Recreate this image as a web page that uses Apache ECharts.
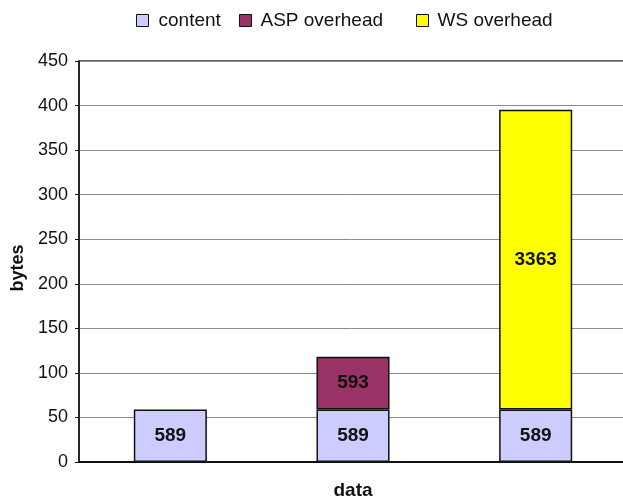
<!DOCTYPE html>
<html>
<head>
<meta charset="utf-8">
<title>Message size: content vs. overhead</title>
<script src="https://cdn.jsdelivr.net/npm/echarts@6/dist/echarts.min.js"></script>
<style>
  html, body { margin: 0; padding: 0; background: #ffffff; }
  #chart { width: 623px; height: 496px; }
</style>
</head>
<body>
<div id="chart"></div>
<script>
// Transport variants along the x axis
const categories = ['raw', 'ASP', 'WS'];

// Bytes per message, stacked
const contentBytes = [589, 589, 589];
const aspOverhead = [null, 593, null];
const wsOverhead = [null, null, 3363];

// Y-axis tick labels (one per 500-byte step)
const yTickLabels = ['0', '50', '100', '150', '200', '250', '300', '350', '400', '450'];

const FONT = '"Liberation Sans", Arial, Helvetica, sans-serif';

const chart = echarts.init(document.getElementById('chart'), null, { renderer: 'canvas' });

function legendItem(name, left, gap) {
  return {
    data: [name],
    left: left,
    top: 11,
    padding: 0,
    itemWidth: 12,
    itemHeight: 12,
    icon: 'rect',
    selectedMode: false,
    textStyle: { fontFamily: FONT, fontSize: 19, color: '#111', padding: [0, 0, 0, gap] },
    itemStyle: { borderColor: '#111', borderWidth: 1 }
  };
}

function stackSeries(name, data, color) {
  return {
    name: name,
    type: 'bar',
    stack: 'bytes',
    data: data,
    barWidth: '40%',
    itemStyle: { color: color, borderColor: '#111', borderWidth: 1.5 },
    label: {
      show: true,
      position: 'inside',
      fontFamily: FONT,
      fontSize: 19,
      fontWeight: 'bold',
      color: '#111'
    }
  };
}

chart.setOption({
  animation: false,
  backgroundColor: '#ffffff',
  legend: [
    legendItem('content', 136, 5),
    legendItem('ASP overhead', 239, 4),
    legendItem('WS overhead', 416, 4)
  ],
  grid: {
    left: 79,
    top: 61,
    width: 548,
    bottom: 34,
    outerBoundsMode: 'none',
    containLabel: false,
    show: true,
    borderColor: '#333',
    borderWidth: 1.5,
    backgroundColor: 'transparent'
  },
  xAxis: {
    type: 'category',
    data: categories,
    name: 'data',
    nameLocation: 'middle',
    nameGap: 19,
    nameTextStyle: { fontFamily: FONT, fontSize: 19, fontWeight: 'bold', color: '#111', verticalAlign: 'top' },
    axisLine: { show: true, lineStyle: { color: '#111', width: 2 } },
    axisTick: { show: false },
    axisLabel: { show: false },
    splitLine: { show: false }
  },
  yAxis: {
    type: 'value',
    min: 0,
    max: 4500,
    interval: 500,
    name: 'bytes',
    nameLocation: 'middle',
    nameRotate: 90,
    nameGap: 52,
    nameTextStyle: { fontFamily: FONT, fontSize: 18, fontWeight: 'bold', color: '#111', padding: [0, 13, 0, 0] },
    axisLine: { show: true, lineStyle: { color: '#111', width: 1.5 } },
    axisTick: { show: true, length: 4, lineStyle: { color: '#111', width: 1 } },
    axisLabel: {
      fontFamily: FONT,
      fontSize: 18,
      color: '#111',
      margin: 11,
      formatter: function (v) { return yTickLabels[Math.round(v / 500)]; }
    },
    splitLine: { show: true, lineStyle: { color: '#8a8a8a', width: 1 } }
  },
  series: [
    stackSeries('content', contentBytes, '#ccccff'),
    stackSeries('ASP overhead', aspOverhead, '#993366'),
    stackSeries('WS overhead', wsOverhead, '#ffff00')
  ]
});
</script>
</body>
</html>
